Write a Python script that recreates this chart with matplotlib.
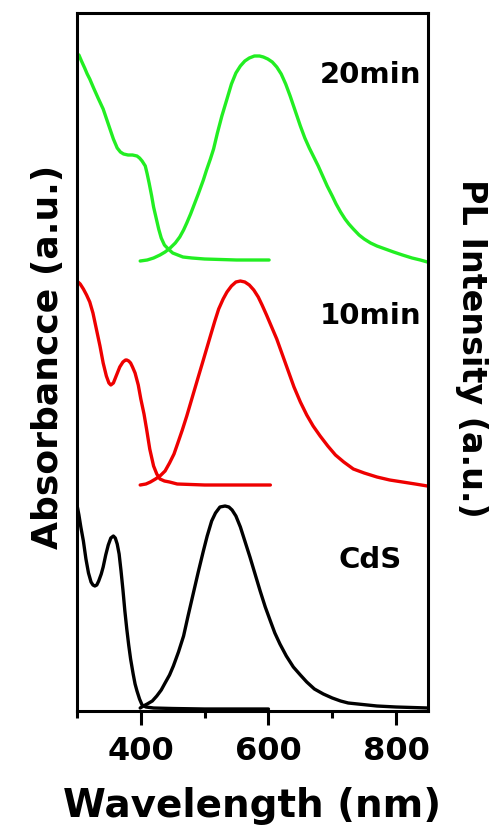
import matplotlib
matplotlib.use('Agg')
import matplotlib.pyplot as plt
from matplotlib.ticker import MultipleLocator

# CdS (black)
cds_abs_wl = [300, 303, 306, 310, 314, 318, 322, 325, 328, 331, 334, 338, 341, 345, 349,
              353, 357, 360, 363, 366, 369, 372, 375, 378, 381, 384, 388, 391, 394, 398,
              402, 408, 420, 450, 500, 600]
cds_abs = [206, 196, 184, 170, 152, 138, 129, 126, 125, 126, 130, 137, 144, 156, 166,
           173, 175, 173, 167, 157, 140, 121, 100, 82, 66, 52, 37, 27, 20, 12,
           6, 4, 3, 2.5, 2, 2]
cds_pl_wl = [399, 404, 410, 418, 425, 432, 438, 445, 451, 459, 467, 474, 482, 490, 498,
             504, 511, 517, 524, 532, 538, 543, 549, 556, 563, 571, 579, 587, 595, 603,
             610, 618, 628, 639, 650, 660, 672, 686, 700, 713, 725, 740, 770, 800, 850]
cds_pl = [3, 5, 7, 10, 15, 21, 28, 36, 45, 59, 75, 95, 117, 139, 160,
          175, 190, 198, 204, 205, 204, 201, 195, 184, 170, 154, 137, 120, 104, 90,
          78, 67, 55, 44, 36, 29, 22, 17, 13, 10, 8, 7, 5, 4, 3]

# 10 min (red)
r_abs_wl = [300, 305, 310, 315, 320, 325, 330, 336, 341, 346, 350, 353, 357, 362, 367,
            372, 376, 378, 381, 384, 387, 391, 396, 400, 405, 409, 414, 420, 425, 430,
            437, 445, 457, 500, 603]
r_abs = [430, 427, 422, 416, 409, 398, 383, 365, 348, 335, 328, 326, 328, 336, 344,
         349, 351, 351, 350, 348, 344, 338, 326, 312, 297, 282, 262, 245, 237, 232,
         230, 229, 227, 226, 226]
r_pl_wl = [399, 408, 415, 423, 430, 438, 445, 452, 458, 465, 472, 478, 484, 490, 497,
           503, 509, 516, 522, 529, 535, 542, 549, 556, 563, 570, 577, 584, 590, 597,
           603, 613, 622, 631, 640, 650, 660, 670, 681, 693, 705, 718, 733, 750, 770,
           790, 810, 830, 849]
r_pl = [226, 227, 229, 232, 235, 240, 248, 257, 268, 281, 295, 308, 321, 334, 349,
        362, 375, 390, 402, 412, 419, 425, 429, 430, 429, 426, 421, 414, 406, 396,
        387, 372, 356, 340, 324, 309, 296, 285, 275, 265, 256, 249, 242, 238, 234,
        231, 229, 227, 225]

# 20 min (green)
g_abs_wl = [300, 303, 307, 312, 316, 320, 326, 333, 341, 349, 357, 363, 368, 373, 380,
            387, 394, 398, 402, 407, 410, 413, 417, 420, 424, 428, 432, 437, 443, 450,
            458, 466, 480, 500, 550, 601]
g_abs = [657, 656, 650, 643, 637, 632, 623, 613, 602, 587, 572, 563, 559, 557, 556,
         556, 555, 553, 550, 545, 537, 528, 515, 504, 493, 482, 473, 466, 462, 458,
         456, 454, 453, 452, 451, 451]
g_pl_wl = [399, 410, 420, 430, 438, 446, 454, 461, 467, 472, 478, 484, 490, 498,
           503, 509, 514, 520, 527, 535, 542, 549, 556, 563, 570, 578, 586, 592, 599,
           606, 613, 620, 627, 634, 642, 650, 657, 664, 671, 678, 685, 692, 700, 706,
           713, 720, 726, 733, 742, 750, 760, 770, 783, 796, 810, 825, 838, 849]
g_pl = [450, 451, 453, 456, 459, 463, 468, 474, 481, 488, 497, 507, 517, 531,
        541, 552, 562, 578, 595, 612, 627, 638, 645, 650, 653, 655, 655, 654, 652,
        649, 644, 637, 627, 615, 600, 585, 573, 563, 554, 545, 535, 525, 515, 507,
        499, 492, 487, 482, 476, 472, 468, 465, 462, 459, 456, 453, 451, 449]

labels = ['CdS', '10min', '20min']
label_y = [152, 396, 637]

fig = plt.figure(figsize=(4.96, 8.28), dpi=100)
ax = fig.add_axes([77/496, 116/828, 351/496, 698/828])

lw = 2.4
kw = dict(lw=lw, solid_joinstyle='round', solid_capstyle='round')
ax.plot(cds_abs_wl, cds_abs, color='black', **kw)
ax.plot(cds_pl_wl, cds_pl, color='black', **kw)
ax.plot(r_abs_wl, r_abs, color='#ee0000', **kw)
ax.plot(r_pl_wl, r_pl, color='#ee0000', **kw)
ax.plot(g_abs_wl, g_abs, color='#22ee22', **kw)
ax.plot(g_pl_wl, g_pl, color='#22ee22', **kw)

for lab, yy in zip(labels, label_y):
    ax.text(760, yy, lab, ha='center', va='center', fontsize=21, fontweight='bold')

ax.set_xlim(300, 850)
ax.set_ylim(0, 698)
ax.xaxis.set_minor_locator(MultipleLocator(100))
ax.set_xticks([400, 600, 800])
ax.set_yticks([])
ax.tick_params(axis='x', which='major', direction='out', length=10, width=2.2, pad=7,
               labelsize=23)
ax.tick_params(axis='x', which='minor', direction='out', length=5, width=2.2)
for t in ax.get_xticklabels():
    t.set_fontweight('bold')
for s in ax.spines.values():
    s.set_linewidth(2.2)

fig.text(252/496, 1 - 806/828, 'Wavelength (nm)', ha='center', va='center',
         fontsize=28, fontweight='bold')
fig.text(48/496, 1 - 357/828, 'Absorbancce (a.u.)', ha='center', va='center',
         fontsize=26, fontweight='bold', rotation=90)
fig.text(471/496, 1 - 348/828, 'PL Intensity (a.u.)', ha='center', va='center',
         fontsize=24, fontweight='bold', rotation=-90)

fig.savefig('out.png', dpi=100)
